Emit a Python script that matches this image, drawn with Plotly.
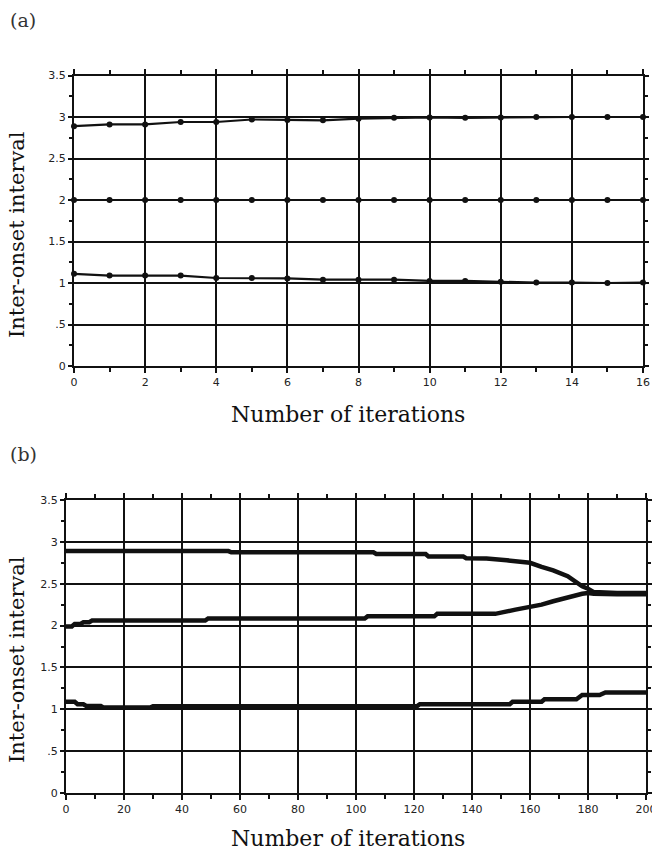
import plotly.graph_objects as go

# ---------------- data: panel (a) ----------------
iter_a = [0, 1, 2, 3, 4, 5, 6, 7, 8, 9, 10, 11, 12, 13, 14, 15, 16]
upper_a = [2.89, 2.91, 2.91, 2.94, 2.94, 2.97, 2.965, 2.96, 2.98, 2.99, 2.995, 2.99, 2.995, 3.0, 3.0, 3.0, 3.0]
middle_a = [2.0, 2.0, 2.0, 2.0, 2.0, 2.0, 2.0, 2.0, 2.0, 2.0, 2.0, 2.0, 2.0, 2.0, 2.0, 2.0, 2.0]
lower_a = [1.11, 1.09, 1.09, 1.09, 1.06, 1.06, 1.055, 1.04, 1.04, 1.04, 1.025, 1.025, 1.015, 1.005, 1.005, 1.0, 1.005]

# ---------------- data: panel (b) ----------------
upper_b_x = [0, 56, 57, 106, 107, 124, 125, 137, 138, 145, 152, 160, 164, 168, 173, 176, 178, 180, 182, 190, 200]
upper_b_y = [2.89, 2.89, 2.875, 2.875, 2.855, 2.855, 2.825, 2.825, 2.805, 2.80, 2.78, 2.75, 2.70, 2.66, 2.59, 2.52, 2.47, 2.44, 2.40, 2.39, 2.39]

middle_b_x = [0, 2, 3, 5, 6, 8, 9, 48, 49, 103, 104, 127, 128, 148, 155, 160, 164, 168, 173, 178, 180, 182, 190, 200]
middle_b_y = [1.99, 1.99, 2.02, 2.02, 2.04, 2.04, 2.06, 2.06, 2.085, 2.085, 2.11, 2.11, 2.14, 2.14, 2.19, 2.22, 2.25, 2.29, 2.34, 2.38, 2.39, 2.38, 2.375, 2.375]

lower_b_x = [0, 3, 4, 6, 7, 12, 13, 29, 30, 121, 122, 153, 154, 164, 165, 176, 178, 184, 186, 200]
lower_b_y = [1.09, 1.09, 1.06, 1.06, 1.04, 1.04, 1.02, 1.02, 1.035, 1.035, 1.06, 1.06, 1.09, 1.09, 1.12, 1.12, 1.17, 1.17, 1.20, 1.20]

y_tickvals = [0, 0.5, 1, 1.5, 2, 2.5, 3, 3.5]
y_ticktext = ["0", ".5", "1", "1.5", "2", "2.5", "3", "3.5"]
x_ticks_a = [0, 2, 4, 6, 8, 10, 12, 14, 16]
x_ticks_b = [0, 20, 40, 60, 80, 100, 120, 140, 160, 180, 200]

x_title = "Number of iterations"
y_title = "Inter-onset interval"

W, H = 652, 858
INK = "#111111"
TICKFONT = dict(family="DejaVu Sans, Verdana, sans-serif", size=11, color="#222222")
SERIF = "DejaVu Serif, Georgia, serif"

fig = go.Figure()

for ys in (upper_a, middle_a, lower_a):
    fig.add_trace(go.Scatter(
        x=iter_a, y=ys, mode="lines+markers", xaxis="x", yaxis="y",
        line=dict(color=INK, width=2.2), marker=dict(color=INK, size=6),
        showlegend=False, hoverinfo="skip", cliponaxis=False))

for xs, ys in ((upper_b_x, upper_b_y), (middle_b_x, middle_b_y), (lower_b_x, lower_b_y)):
    fig.add_trace(go.Scatter(
        x=xs, y=ys, mode="lines", xaxis="x2", yaxis="y2",
        line=dict(color=INK, width=4.5), showlegend=False, hoverinfo="skip"))


def xax(domain, rng, tickvals, minor_dtick, anchor):
    return dict(domain=domain, range=rng, anchor=anchor, tickvals=tickvals,
                ticktext=[str(v) for v in tickvals], tickfont=TICKFONT,
                ticklabeloverflow="allow",
                showgrid=True, gridcolor=INK, gridwidth=1.5,
                showline=True, linecolor=INK, linewidth=2, mirror="allticks",
                ticks="outside", ticklen=5, tickcolor=INK, tickwidth=1.5,
                minor=dict(dtick=minor_dtick, tick0=0, ticks="outside", ticklen=4,
                           tickcolor=INK, tickwidth=1.5, showgrid=False),
                zeroline=False, fixedrange=True, automargin=False)


def yax(domain, anchor):
    return dict(domain=domain, range=[0, 3.5], anchor=anchor, tickvals=y_tickvals,
                ticktext=y_ticktext, tickfont=TICKFONT,
                showgrid=True, gridcolor=INK, gridwidth=1.5,
                showline=True, linecolor=INK, linewidth=2, mirror="allticks",
                ticks="outside", ticklen=4, tickcolor=INK, tickwidth=1.5,
                minor=dict(dtick=0.25, tick0=0, ticks="outside", ticklen=3,
                           tickcolor=INK, tickwidth=1.5, showgrid=False),
                zeroline=False, fixedrange=True, automargin=False)


def px_x(p):
    return p / W


def px_y(p):
    return 1 - p / H


fig.update_layout(
    width=W, height=H, margin=dict(l=0, r=0, t=0, b=0, pad=0, autoexpand=False),
    paper_bgcolor="white", plot_bgcolor="white",
    xaxis=xax([px_x(74), px_x(643)], [0, 16], x_ticks_a, 1, "y"),
    yaxis=yax([px_y(366), px_y(75.5)], "x"),
    xaxis2=xax([px_x(66), px_x(646)], [0, 200], x_ticks_b, 10, "y2"),
    yaxis2=yax([px_y(793), px_y(500)], "x2"),
)

ann = [
    dict(text="(a)", x=px_x(8), y=px_y(20), xanchor="left", yanchor="middle",
         font=dict(family=SERIF, size=19, color="#333")),
    dict(text="(b)", x=px_x(8), y=px_y(454), xanchor="left", yanchor="middle",
         font=dict(family=SERIF, size=19, color="#333")),
    dict(text=x_title, x=px_x(348), y=px_y(414), xanchor="center", yanchor="middle",
         font=dict(family=SERIF, size=22, color="#111")),
    dict(text=x_title, x=px_x(348), y=px_y(838), xanchor="center", yanchor="middle",
         font=dict(family=SERIF, size=22, color="#111")),
    dict(text=y_title, x=px_x(17), y=px_y(235), xanchor="center", yanchor="middle",
         textangle=-90, font=dict(family=SERIF, size=21, color="#111")),
    dict(text=y_title, x=px_x(17), y=px_y(660), xanchor="center", yanchor="middle",
         textangle=-90, font=dict(family=SERIF, size=21, color="#111")),
]
for a in ann:
    a.update(xref="paper", yref="paper", showarrow=False)
fig.update_layout(annotations=ann)

fig.write_html("out.html")
